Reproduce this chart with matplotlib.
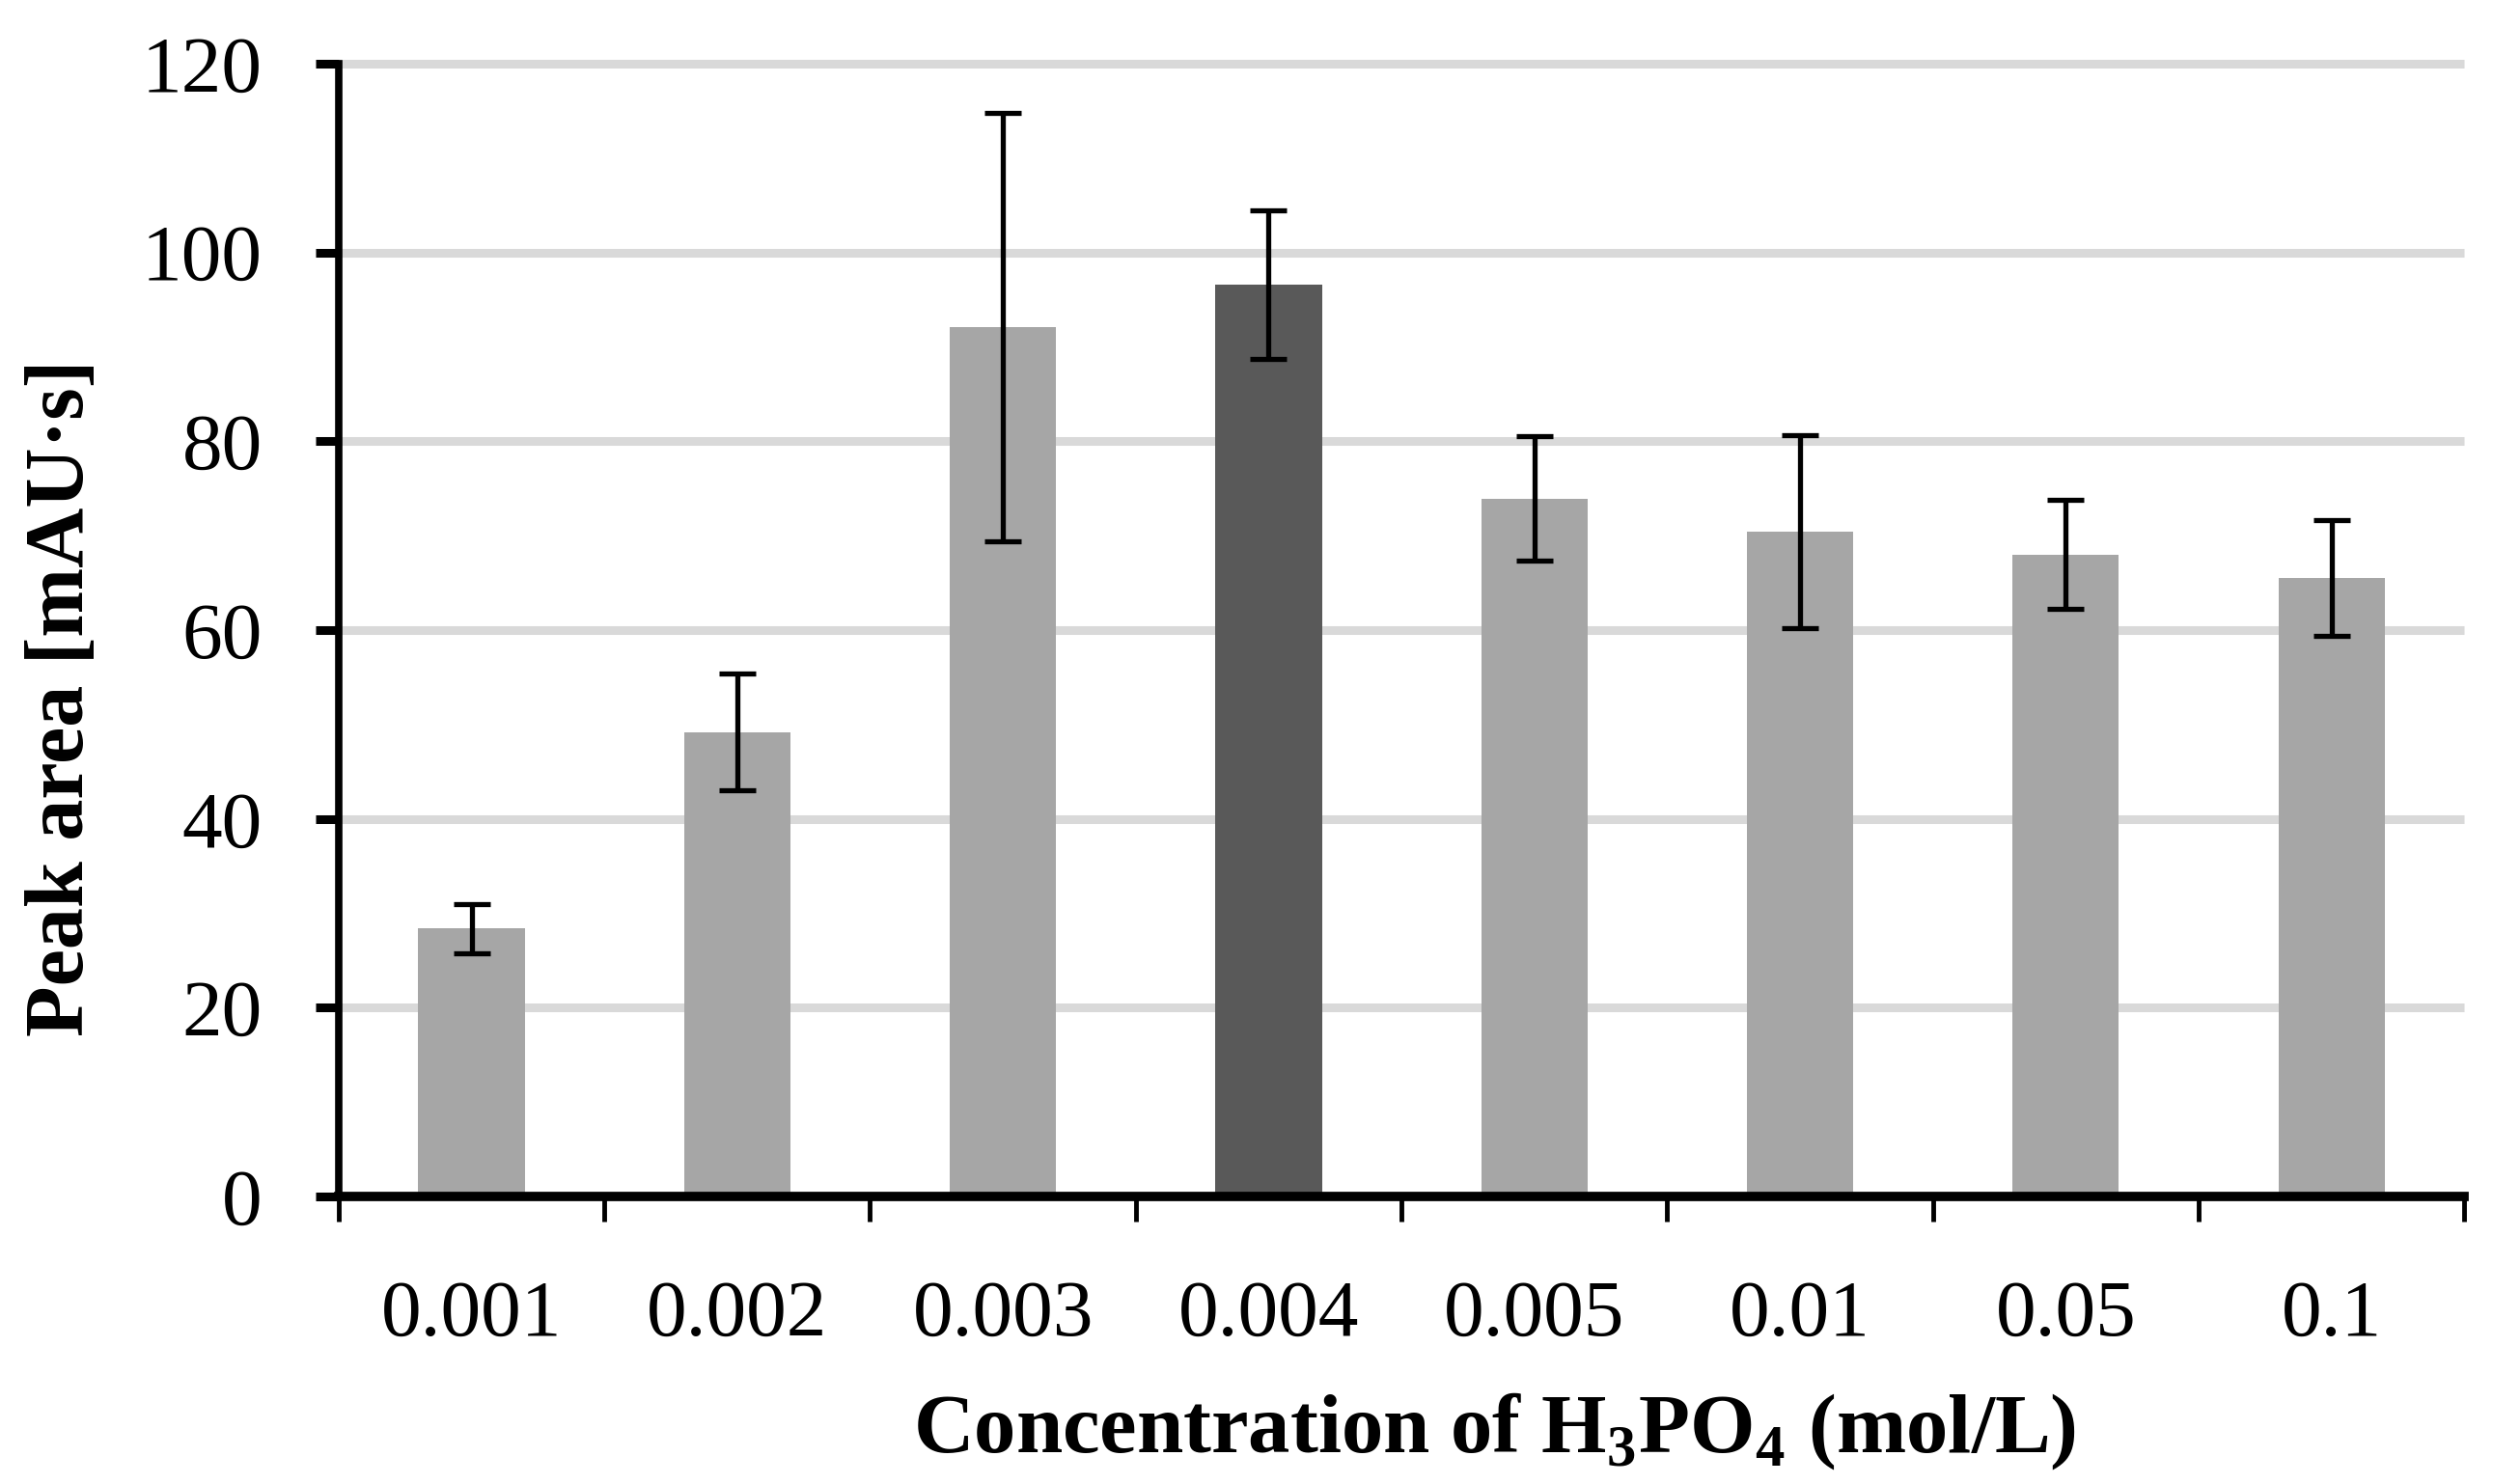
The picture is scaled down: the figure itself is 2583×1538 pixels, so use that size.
import matplotlib
matplotlib.use("Agg")
import matplotlib.pyplot as plt
import numpy as np

categories = ["0.001", "0.002", "0.003", "0.004", "0.005", "0.01", "0.05", "0.1"]
peak_area = [28.4, 49.2, 92.1, 96.6, 73.9, 70.4, 68.0, 65.5]
errors = [2.6, 6.2, 22.7, 7.9, 6.6, 10.2, 5.8, 6.1]
highlight = "0.004"
yticks = [0, 20, 40, 60, 80, 100, 120]

plt.rcParams['font.family'] = ['Liberation Serif', 'DejaVu Serif']
plt.rcParams['mathtext.fontset'] = 'custom'
plt.rcParams['mathtext.rm'] = 'Liberation Serif'
plt.rcParams['mathtext.bf'] = 'Liberation Serif:bold'

W, H = 2583, 1538
fig = plt.figure(figsize=(W / 100, H / 100), dpi=100)
ax = fig.add_axes([213 / 1568, 1 - 753 / 934, (1550 - 213) / 1568, (753 - 40) / 934])

x = np.arange(len(categories))
colors = ['#595959' if c == highlight else '#a6a6a6' for c in categories]
ax.bar(x, peak_area, width=0.40, color=colors, zorder=2)
ax.errorbar(x, peak_area, yerr=errors, fmt='none', ecolor='black',
            elinewidth=3.8, capsize=14, capthick=3.8, zorder=3)

ax.set_xlim(-0.5, len(categories) - 0.5)
ax.set_ylim(0, 120)
ax.hlines(yticks[1:], -0.5, len(categories) - 0.5, colors='#d9d9d9',
          linewidth=6.5, zorder=0, clip_on=False)

for s in ['top', 'right']:
    ax.spines[s].set_visible(False)
ax.spines['left'].set_linewidth(5.5)
ax.spines['bottom'].set_linewidth(7)
ax.spines['bottom'].set_zorder(4)

ax.set_yticks(yticks)
ax.set_yticklabels([str(v) for v in yticks])
ax.tick_params(axis='y', direction='out', length=17, width=6.5, pad=40, labelsize=60)

ax.set_xticks(np.arange(-0.5, len(categories), 1.0))
ax.set_xticklabels([])
ax.tick_params(axis='x', which='major', direction='out', length=19, width=3.5)
ax.set_xticks(x, minor=True)
ax.set_xticklabels(categories, minor=True)
ax.tick_params(axis='x', which='minor', length=0, pad=62, labelsize=60)

fig.text(40 / 1568, 1 - 439 / 934, "Peak area [mAU·s]", rotation=90, fontsize=62,
         fontweight='bold', ha='center', va='center')
fig.text(940 / 1568, 1 - 914 / 934, r"Concentration of H$_\mathbf{3}$PO$_\mathbf{4}$ (mol/L)",
         fontsize=62.5, fontweight='bold', ha='center', va='baseline')

fig.savefig("out.png", dpi=100, facecolor='white')
